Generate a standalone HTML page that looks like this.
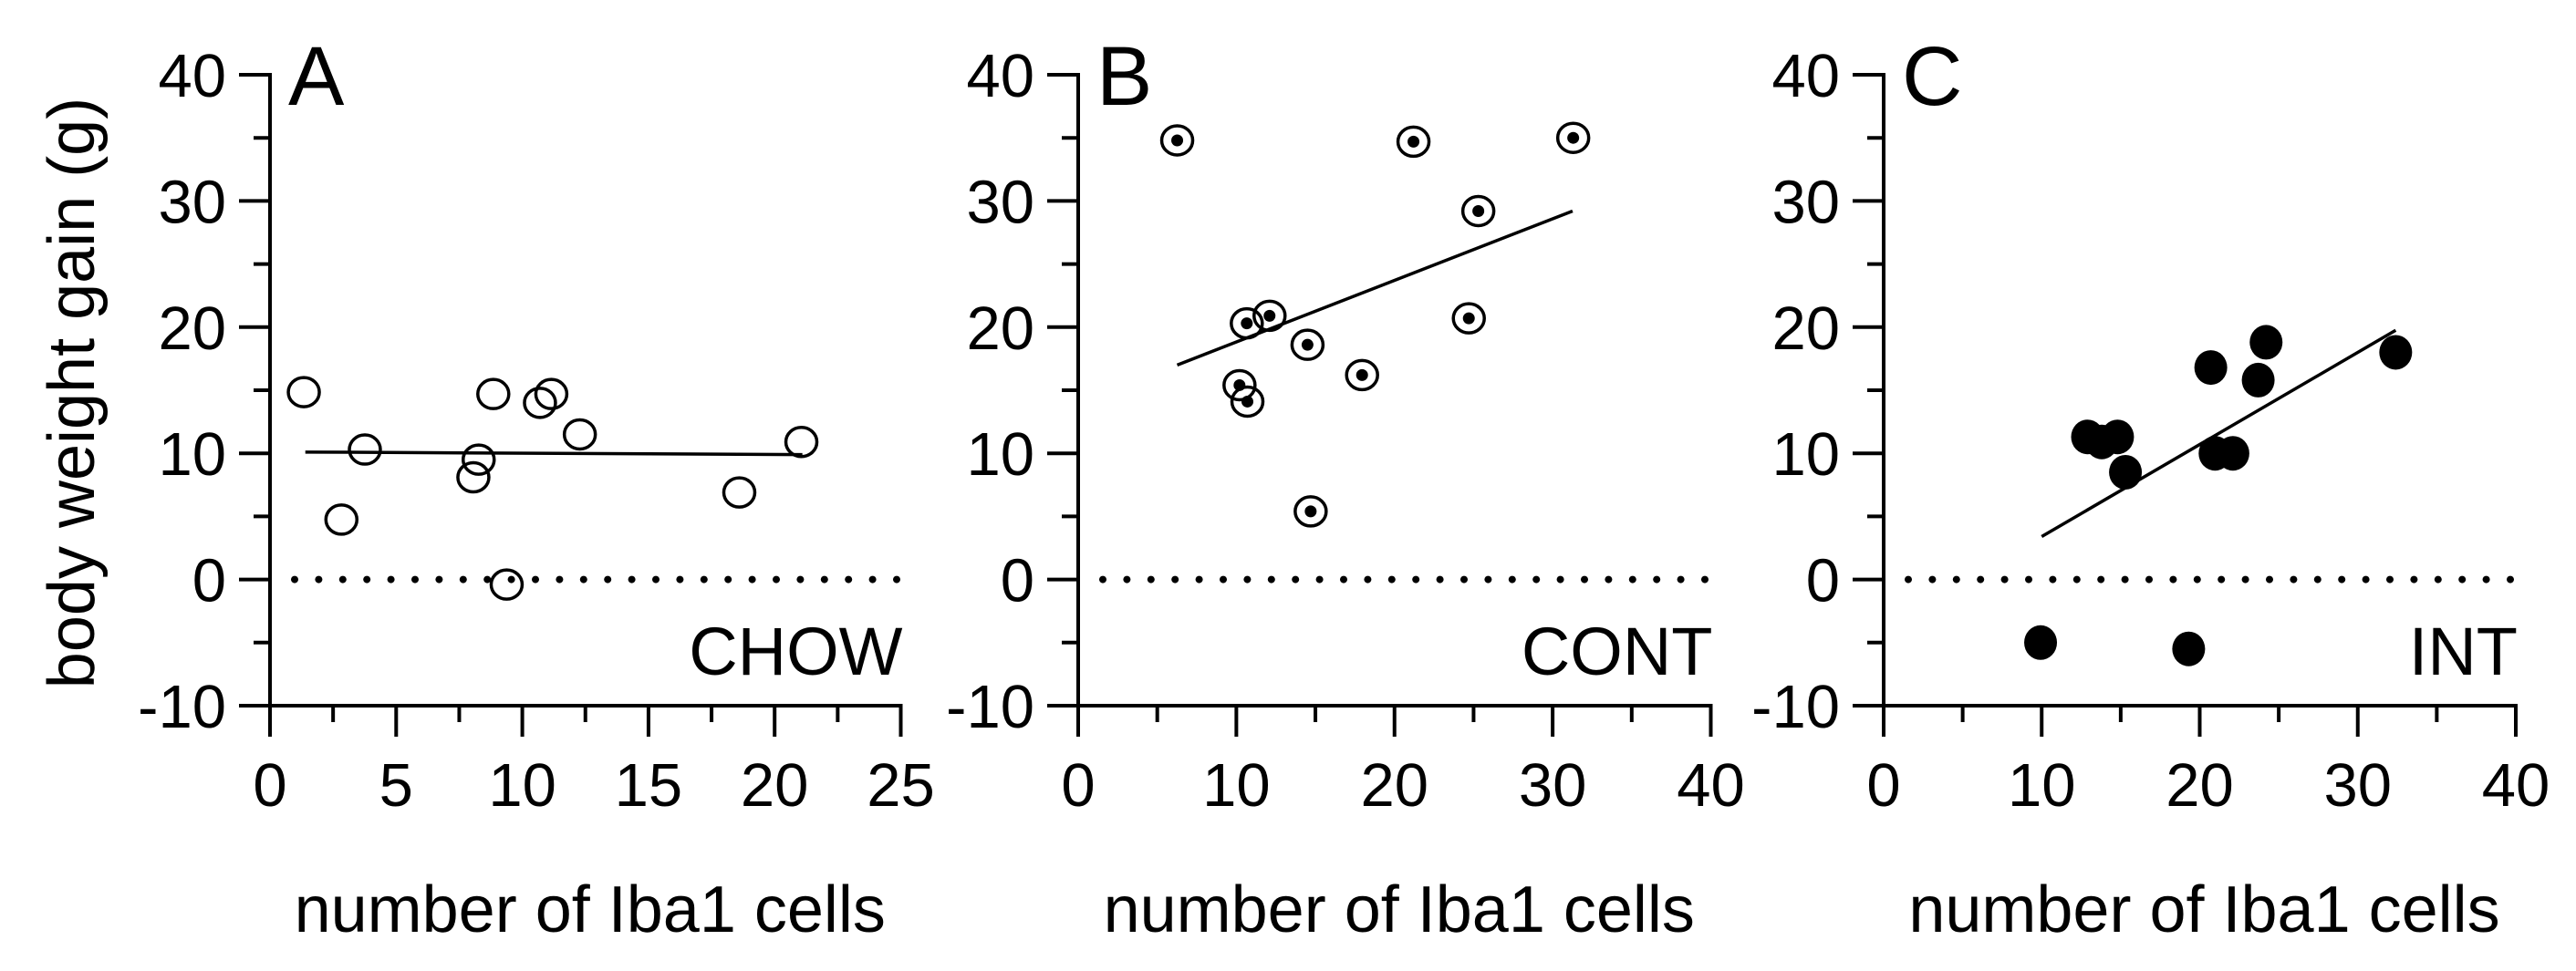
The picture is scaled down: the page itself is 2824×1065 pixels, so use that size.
<!DOCTYPE html>
<html><head><meta charset="utf-8"><style>html,body{margin:0;padding:0;background:#fff}svg{display:block}</style></head>
<body>
<svg id="chart" width="2824" height="1065" viewBox="0 0 2824 1065" xmlns="http://www.w3.org/2000/svg" font-family="Liberation Sans, Arial, sans-serif"></svg>
<script>
const chowX = [1.34, 2.83, 3.76, 8.06, 8.27, 8.85, 9.38, 10.7, 11.15, 12.28, 18.6, 21.06];
const chowY = [14.85, 4.75, 10.3, 8.1, 9.5, 14.7, -0.4, 14.0, 14.7, 11.5, 6.9, 10.9];
const chowFitX = [1.4, 21.1];
const chowFitY = [10.1, 9.9];
const contX = [6.26, 10.66, 12.1, 10.2, 10.7, 14.5, 14.7, 17.95, 21.2, 24.7, 25.3, 31.3];
const contY = [34.8, 20.3, 20.9, 15.4, 14.1, 18.6, 5.4, 16.2, 34.7, 20.7, 29.2, 35.0];
const contFitX = [6.26, 31.26];
const contFitY = [17.0, 29.2];
const intX = [9.93, 19.3, 12.9, 13.8, 14.8, 15.3, 20.7, 20.97, 22.1, 23.7, 24.2, 32.4];
const intY = [-5.0, -5.5, 11.3, 10.9, 11.3, 8.5, 16.8, 10.0, 10.0, 15.8, 18.8, 18.0];
const intFitX = [10.0, 32.4];
const intFitY = [3.4, 19.75];
const yTicks = [-10, 0, 10, 20, 30, 40];
const xTicksA = [0, 5, 10, 15, 20, 25];
const xTicksBC = [0, 10, 20, 30, 40];

const NS = "http://www.w3.org/2000/svg";
const svg = document.getElementById('chart');
function mk(tag, attrs, parent) {
  const e = document.createElementNS(NS, tag);
  for (const k in attrs) e.setAttribute(k, attrs[k]);
  (parent || svg).appendChild(e);
  return e;
}
const Y0 = 774, Y1 = 82;
function yS(v) { return Y0 + (v + 10) / 50 * (Y1 - Y0); }

const panels = [
  {id:'a', letter:'A', label:'CHOW', x0:296, x1:987.5, max:25, ticks:xTicksA, minor:2.5, xs:chowX, ys:chowY, fx:chowFitX, fy:chowFitY, kind:'open'},
  {id:'b', letter:'B', label:'CONT', x0:1182, x1:1875.5, max:40, ticks:xTicksBC, minor:5, xs:contX, ys:contY, fx:contFitX, fy:contFitY, kind:'dot'},
  {id:'c', letter:'C', label:'INT', x0:2065, x1:2758, max:40, ticks:xTicksBC, minor:5, xs:intX, ys:intY, fx:intFitX, fy:intFitY, kind:'filled'}
];

panels.forEach(p => {
  const g = mk('g', {});
  
  
  const xS = v => p.x0 + v / p.max * (p.x1 - p.x0);
  const ya = mk('line', {x1:p.x0, y1:Y1-2, x2:p.x0, y2:Y0+34, stroke:'#000', 'stroke-width':4}, g);
  
  
  for (let v = -10; v <= 40; v += 5) {
    const major = v % 10 === 0;
    const t = mk('line', {x1:p.x0 - (major ? 34 : 18), y1:yS(v), x2:p.x0, y2:yS(v), stroke:'#000', 'stroke-width':4}, g);
    
    
  }
  yTicks.forEach(v => {
    const t = mk('text', {x:p.x0 - 48, y:yS(v) + 24, 'font-size':67, 'text-anchor':'end', fill:'#000'}, g);
    t.textContent = v;
    
    
  });
  const xa = mk('line', {x1:p.x0 - 34, y1:Y0, x2:p.x1 + 2, y2:Y0, stroke:'#000', 'stroke-width':4}, g);
  
  
  for (let v = 0; v <= p.max + 0.001; v += p.minor) {
    const major = Math.abs(v / (p.minor * 2) - Math.round(v / (p.minor * 2))) < 1e-6;
    const t = mk('line', {x1:xS(v), y1:Y0, x2:xS(v), y2:Y0 + (major ? 34 : 18), stroke:'#000', 'stroke-width':4}, g);
    
    
  }
  p.ticks.forEach(v => {
    const t = mk('text', {x:xS(v), y:884, 'font-size':67, 'text-anchor':'middle', fill:'#000'}, g);
    t.textContent = v;
    
    
  });
  for (let x = p.x0 + 27; x <= p.x1 + 2; x += 26.4) {
    const d = mk('circle', {cx:x, cy:yS(0), r:4, fill:'#000'}, g);
    
    
  }
  const fl = mk('line', {x1:xS(p.fx[0]), y1:yS(p.fy[0]), x2:xS(p.fx[1]), y2:yS(p.fy[1]), stroke:'#000', 'stroke-width':3.5}, g);
  
  
  p.xs.forEach((xv, i) => {
    const cx = xS(xv), cy = yS(p.ys[i]);
    if (p.kind === 'filled') {
      const c = mk('ellipse', {cx:cx, cy:cy, rx:18, ry:19, fill:'#000'}, g);
      
      
    } else {
      const c = mk('ellipse', {cx:cx, cy:cy, rx:17, ry:16, fill:'none', stroke:'#000', 'stroke-width':3.5}, g);
      
      
      if (p.kind === 'dot') {
        const d = mk('circle', {cx:cx, cy:cy, r:6.5, fill:'#000'}, g);
        
        
      }
    }
  });
  const L = mk('text', {x:p.x0 + 20, y:115, 'font-size':92, fill:'#000'}, g);
  L.textContent = p.letter;
  
  
  const G = mk('text', {x:p.x1 + 2, y:740, 'font-size':74, 'text-anchor':'end', fill:'#000'}, g);
  G.textContent = p.label;
  
  
  const T = mk('text', {x:(p.x0 + p.x1) / 2 + 5, y:1022, 'font-size':72, 'text-anchor':'middle', fill:'#000'}, g);
  T.textContent = 'number of Iba1 cells';
  
  
});
const yt = mk('text', {x:0, y:0, 'font-size':72, 'text-anchor':'middle', fill:'#000', transform:'translate(103,431) rotate(-90)'});
yt.textContent = 'body weight gain (g)';


</script>
</body></html>
